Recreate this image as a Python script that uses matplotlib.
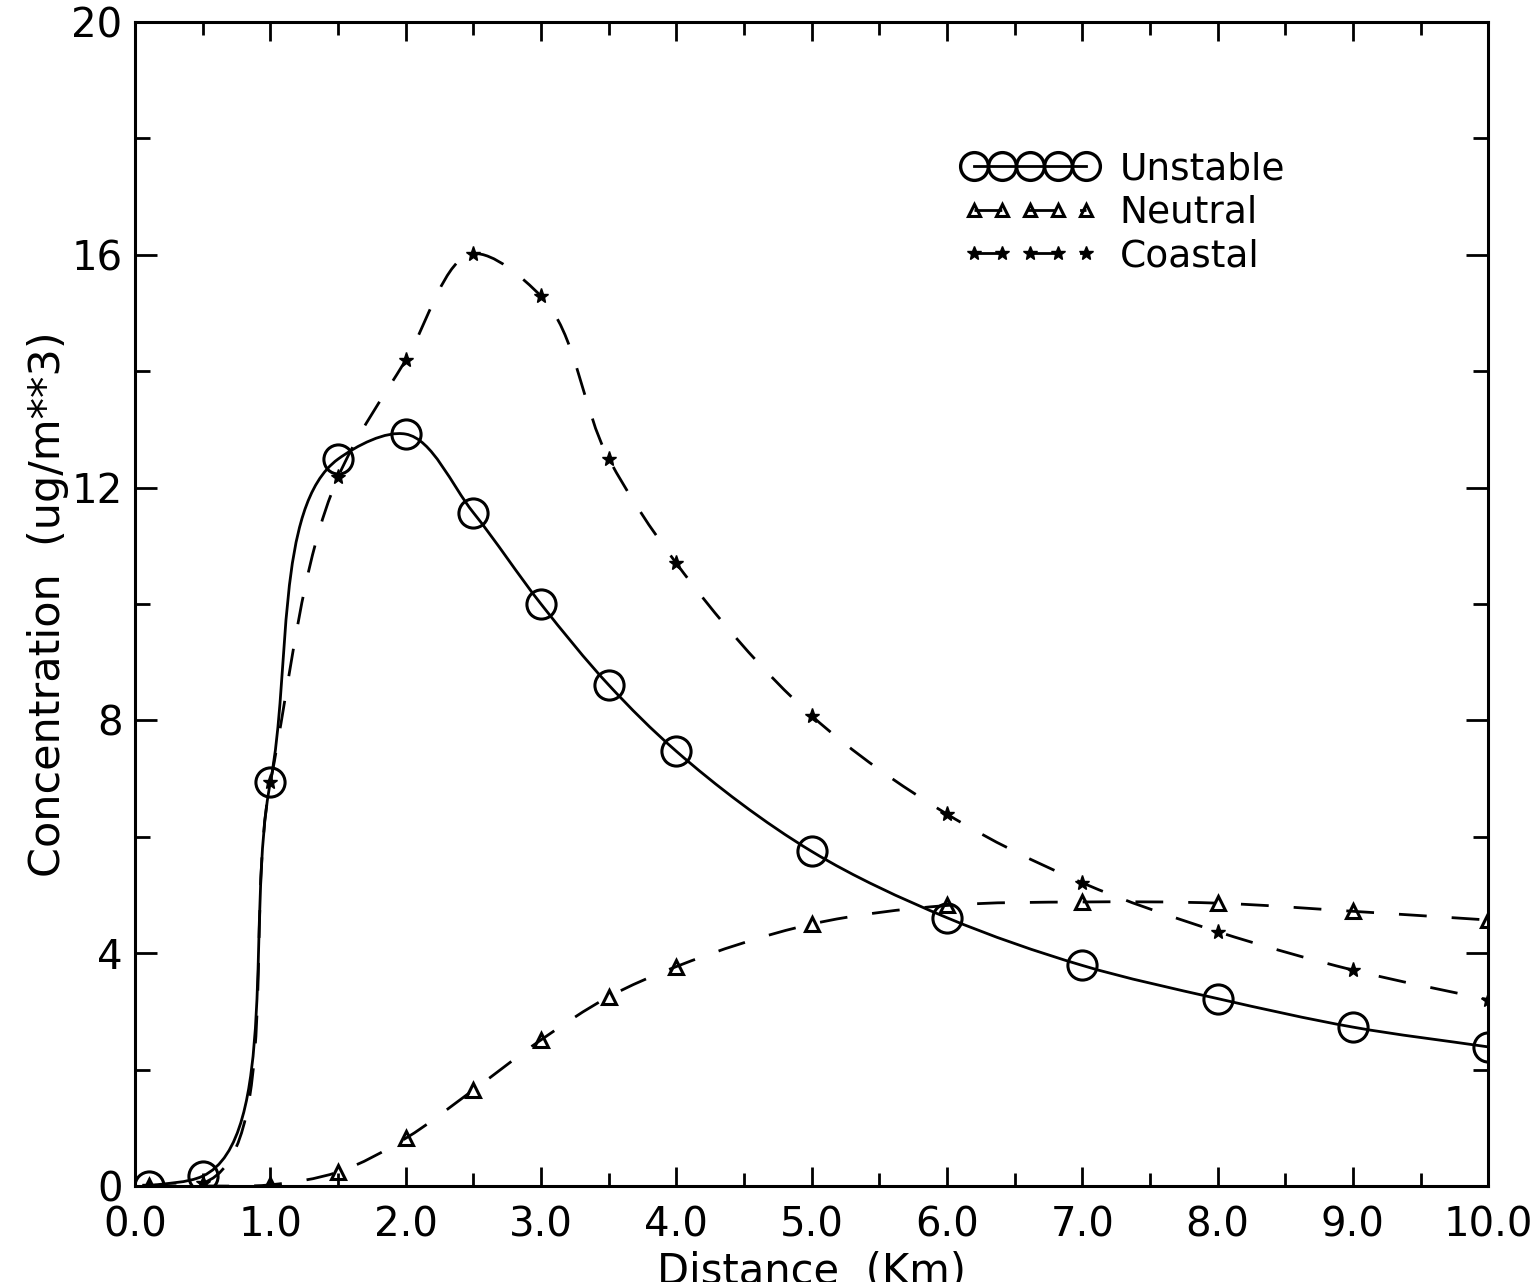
import numpy as np
import matplotlib
matplotlib.use("Agg")
from matplotlib import pyplot as plt
from matplotlib.path import Path
from matplotlib.patches import PathPatch
from matplotlib.lines import Line2D
from matplotlib.ticker import MultipleLocator, FormatStrFormatter

# distance downwind (km) and concentration (ug/m**3) for each case
distance = [0.1, 0.5, 1.0, 1.5, 2.0, 2.5, 3.0, 3.5, 4.0, 5.0, 6.0, 7.0, 8.0, 9.0, 10.0]
unstable = [0.0, 0.17, 6.94, 12.49, 12.92, 11.57, 10.0, 8.61, 7.47, 5.75, 4.61, 3.79, 3.22, 2.73, 2.39]
neutral = [0.0, 0.0, 0.02, 0.24, 0.82, 1.65, 2.51, 3.25, 3.77, 4.5, 4.82, 4.88, 4.86, 4.72, 4.57]
coastal = [0.0, 0.05, 6.94, 12.18, 14.19, 16.02, 15.29, 12.5, 10.7, 8.08, 6.39, 5.21, 4.37, 3.71, 3.2]

labels = ["Unstable", "Neutral", "Coastal"]

plt.rcParams['font.family'] = ['DejaVu Sans']


def smooth_path(x, y, sx, sy, alpha=0.8):
    # Catmull-Rom through the points (knots spaced by screen distance ** alpha),
    # written as cubic Bezier segments
    P = np.column_stack([np.asarray(x, float) * sx, np.asarray(y, float) * sy])
    n = len(P)
    d = np.linalg.norm(np.diff(P, axis=0), axis=1) ** alpha
    d = np.maximum(d, 1e-6)
    m = np.zeros_like(P)
    m[0] = (P[1] - P[0]) / d[0]
    m[-1] = (P[-1] - P[-2]) / d[-1]
    for i in range(1, n - 1):
        m[i] = ((P[i] - P[i - 1]) / d[i - 1]
                - (P[i + 1] - P[i - 1]) / (d[i - 1] + d[i])
                + (P[i + 1] - P[i]) / d[i])
    verts = [P[0]]
    codes = [Path.MOVETO]
    for i in range(n - 1):
        verts += [P[i] + m[i] * d[i] / 3, P[i + 1] - m[i + 1] * d[i] / 3, P[i + 1]]
        codes += [Path.CURVE4] * 3
    verts = np.array(verts) / [sx, sy]
    return Path(verts, codes)


fig = plt.figure(figsize=(15.35, 12.82), dpi=100)
ax = fig.add_axes([0.088, 0.0749, 0.8815, 0.9079])
ax.set_xlim(0, 10)
ax.set_ylim(0, 20)

# pixels per data unit, so the spline is shaped in screen proportions
bbox = ax.get_window_extent()
sx = bbox.width / 10
sy = bbox.height / 20

dash = (0, (10, 9))
lw = 2.0
ax.add_patch(PathPatch(smooth_path(distance, unstable, sx, sy), fill=False, ec='black', lw=lw))
ax.add_patch(PathPatch(smooth_path(distance, neutral, sx, sy), fill=False, ec='black', lw=lw, ls=dash))
ax.add_patch(PathPatch(smooth_path(distance, coastal, sx, sy), fill=False, ec='black', lw=lw, ls=dash))

ax.plot(distance, unstable, ls='none', marker='o', ms=21, mfc='none', mec='black', mew=2.2)
ax.plot(distance, neutral, ls='none', marker='^', ms=10, mfc='none', mec='black', mew=2.2)
ax.plot(distance, coastal, ls='none', marker='*', ms=11, mfc='black', mec='black', mew=1)

handles = [
    Line2D([], [], color='black', lw=lw, marker='o', ms=20, mfc='none', mew=2.4),
    Line2D([], [], color='black', lw=lw, ls=dash, marker='^', ms=9, mfc='none', mew=2.2),
    Line2D([], [], color='black', lw=lw, ls=dash, marker='*', ms=10, mfc='black'),
]
ax.legend(handles, labels, loc='upper left', bbox_to_anchor=(0.612, 0.889), frameon=False,
          numpoints=5, handlelength=3.57, handletextpad=0.6, labelspacing=0.2,
          borderpad=0, borderaxespad=0, fontsize=27)

ax.xaxis.set_major_locator(MultipleLocator(1.0))
ax.xaxis.set_minor_locator(MultipleLocator(0.5))
ax.xaxis.set_major_formatter(FormatStrFormatter('%.1f'))
ax.yaxis.set_major_locator(MultipleLocator(4))
ax.yaxis.set_minor_locator(MultipleLocator(2))

ax.tick_params(which='both', direction='in', top=True, right=True, width=2, labelsize=29)
ax.tick_params(axis='x', which='major', length=14, pad=14)
ax.tick_params(axis='x', which='minor', length=9.5)
ax.tick_params(axis='y', which='major', length=16, pad=9)
ax.tick_params(axis='y', which='minor', length=11)
for s in ax.spines.values():
    s.set_linewidth(2.2)

ax.set_xlabel("Distance  (Km)", fontsize=30, labelpad=4)
ax.set_ylabel("Concentration  (ug/m**3)", fontsize=31, labelpad=2)

fig.savefig("out.png", dpi=100)
